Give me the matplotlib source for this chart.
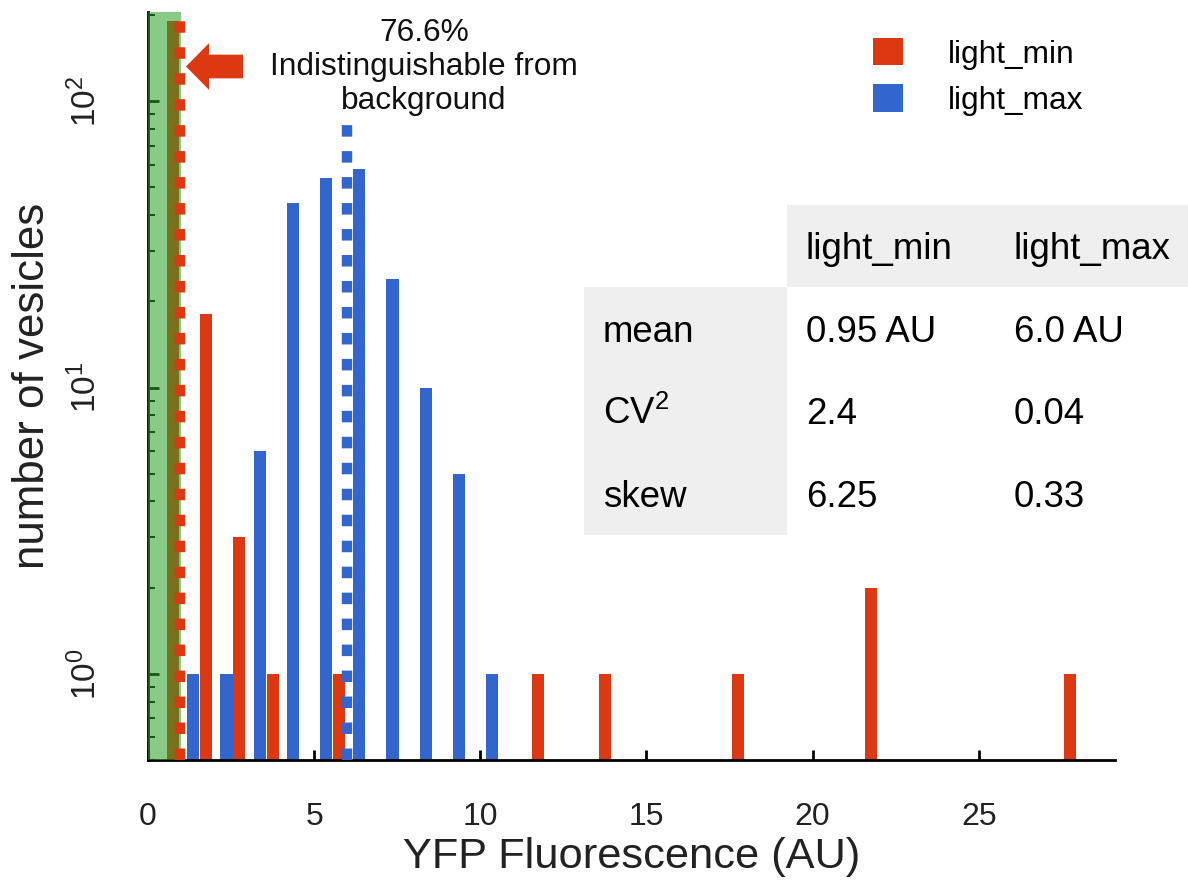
import matplotlib
matplotlib.use('Agg')
import matplotlib.pyplot as plt
from matplotlib.patches import Patch, Rectangle, FancyArrow
from matplotlib.ticker import NullLocator, LogLocator

plt.rcParams['font.family'] = ['Liberation Sans', 'DejaVu Sans']
plt.rcParams['mathtext.fontset'] = 'custom'
plt.rcParams['mathtext.rm'] = 'Liberation Sans'
plt.rcParams['mathtext.it'] = 'Liberation Sans:italic'
plt.rcParams['mathtext.bf'] = 'Liberation Sans:bold'
plt.rcParams['lines.scale_dashes'] = False

# ---------------- data ----------------
series_names = ['light_min', 'light_max']
min_bins = [0, 1, 2, 3, 5, 11, 13, 17, 21, 27]
min_counts = [190, 18, 3, 1, 1, 1, 1, 1, 2, 1]
max_bins = [1, 2, 3, 4, 5, 6, 7, 8, 9, 10]
max_counts = [1, 1, 6, 44, 54, 58, 24, 10, 5, 1]
mean_min = 0.95
mean_max = 6.0
mean_line_top_min = 190
mean_line_top_max = 83
background_cutoff = 1.0
annotation_text = "76.6%\nIndistinguishable from\nbackground"
x_ticks = [0, 5, 10, 15, 20, 25]
table_columns = ['light_min', 'light_max']
table_rows = ['mean', 'CV$^{2}$', 'skew']
table_values = [['0.95 AU', '6.0 AU'],
                ['2.4', '0.04'],
                ['6.25', '0.33']]

RED = '#dc3912'
BLUE = '#3366cc'
GRAY = '#efefef'
TXT = '#222222'

W, H = 1188, 885
fig = plt.figure(figsize=(W / 100, H / 100), dpi=100)
ax = fig.add_axes([148 / W, 1 - 760 / H, (1115 - 148) / W, (760 - 12) / H])
ax.set_yscale('log')

ax.bar([b + 0.75 for b in min_bins], min_counts, width=0.36, color=RED, zorder=2)
ax.bar([b + 0.36 for b in max_bins], max_counts, width=0.37, color=BLUE, zorder=2)

ymin = 0.5
# white underlay for dashed mean lines
ax.vlines([mean_min], ymin, mean_line_top_min, colors='white', lw=7.5, zorder=1.5)
ax.vlines([mean_max], ymin, mean_line_top_max, colors='white', lw=7.5, zorder=1.5)
# background region
ax.axvspan(0, background_cutoff, color=(40 / 255, 160 / 255, 40 / 255), alpha=0.55, lw=0, zorder=3)
# dashed mean lines
ax.vlines([mean_min], ymin, mean_line_top_min, colors=RED, lw=7.5,
          linestyles=[(0, (8.3, 10.4))], zorder=4)
ax.vlines([mean_max], ymin, mean_line_top_max, colors=BLUE, lw=7.5,
          linestyles=[(0, (8.3, 10.4))], zorder=4)

ax.set_xlim(0, 29.1)
ax.set_ylim(ymin, 205)

for s in ['top', 'right']:
    ax.spines[s].set_visible(False)
for s in ['left', 'bottom']:
    ax.spines[s].set_linewidth(2)
    ax.spines[s].set_color('black')

ax.set_xticks(x_ticks)
ax.xaxis.set_minor_locator(NullLocator())
ax.yaxis.set_major_locator(LogLocator(base=10))
ax.tick_params(axis='x', which='major', direction='in', length=7, width=2,
               pad=30, labelsize=23, labelcolor=TXT)
ax.tick_params(axis='y', which='major', direction='in', length=8, width=2,
               pad=32, labelsize=24, labelcolor=TXT, labelrotation=90)
ax.tick_params(axis='y', which='minor', direction='in', length=5, width=1.5)
for lab in ax.get_yticklabels():
    lab.set_va('center')

ax.set_xlabel('YFP Fluorescence (AU)', fontsize=31.2, color=TXT)
ax.xaxis.set_label_coords(0.5, -(857 - 760) / 748)
ax.xaxis.label.set_va('center')
ax.set_ylabel('number of vesicles', fontsize=31.6, color=TXT)
ax.yaxis.set_label_coords((33 - 148) / 967, 0.5)
ax.yaxis.label.set_va('center')

# annotation text and arrow
fig.text(424 / W, 1 - 67 / H, annotation_text, ha='center', va='center',
         fontsize=22.8, linespacing=1.17, color='#111111')
arrow = FancyArrow(2.43, (H - 66.5) / 100, -0.57, 0, width=0.237, head_width=0.467,
                   head_length=0.23, length_includes_head=True, color=RED, lw=0,
                   transform=fig.dpi_scale_trans)
fig.add_artist(arrow)

# legend
handles = [Patch(facecolor=RED, edgecolor='none'), Patch(facecolor=BLUE, edgecolor='none')]
ax.legend(handles, series_names, loc='upper left', bbox_to_anchor=(873 / W, 1 - 38 / H),
          bbox_transform=fig.transFigure, frameon=False, fontsize=22.8,
          handlelength=0.95, handleheight=0.95, handletextpad=1.42,
          labelspacing=0.47, borderpad=0, borderaxespad=0)

# stats table
col_edges = [584, 787, 995, 1188]
row_edges = [205, 287, 370, 452, 535]
fig.add_artist(Rectangle((col_edges[1] / W, 1 - row_edges[1] / H),
                         (col_edges[3] - col_edges[1]) / W, (row_edges[1] - row_edges[0]) / H,
                         transform=fig.transFigure, color=GRAY, lw=0, zorder=0.5))
fig.add_artist(Rectangle((col_edges[0] / W, 1 - row_edges[4] / H),
                         (col_edges[1] - col_edges[0]) / W, (row_edges[4] - row_edges[1]) / H,
                         transform=fig.transFigure, color=GRAY, lw=0, zorder=0.5))
tfs = 26.4
pad = 19
for j, name in enumerate(table_columns):
    yc = (row_edges[0] + row_edges[1]) / 2
    fig.text((col_edges[j + 1] + pad) / W, 1 - (yc + 13) / H, name, ha='left',
             va='baseline', fontsize=tfs, color='black')
for i, rname in enumerate(table_rows):
    yc = (row_edges[i + 1] + row_edges[i + 2]) / 2
    fig.text((col_edges[0] + pad) / W, 1 - (yc + 13) / H, rname, ha='left',
             va='baseline', fontsize=tfs, color='black')
    for j, val in enumerate(table_values[i]):
        fig.text((col_edges[j + 1] + pad) / W, 1 - (yc + 13) / H, val, ha='left',
                 va='baseline', fontsize=tfs, color='black')

fig.savefig('out.png', dpi=100)
